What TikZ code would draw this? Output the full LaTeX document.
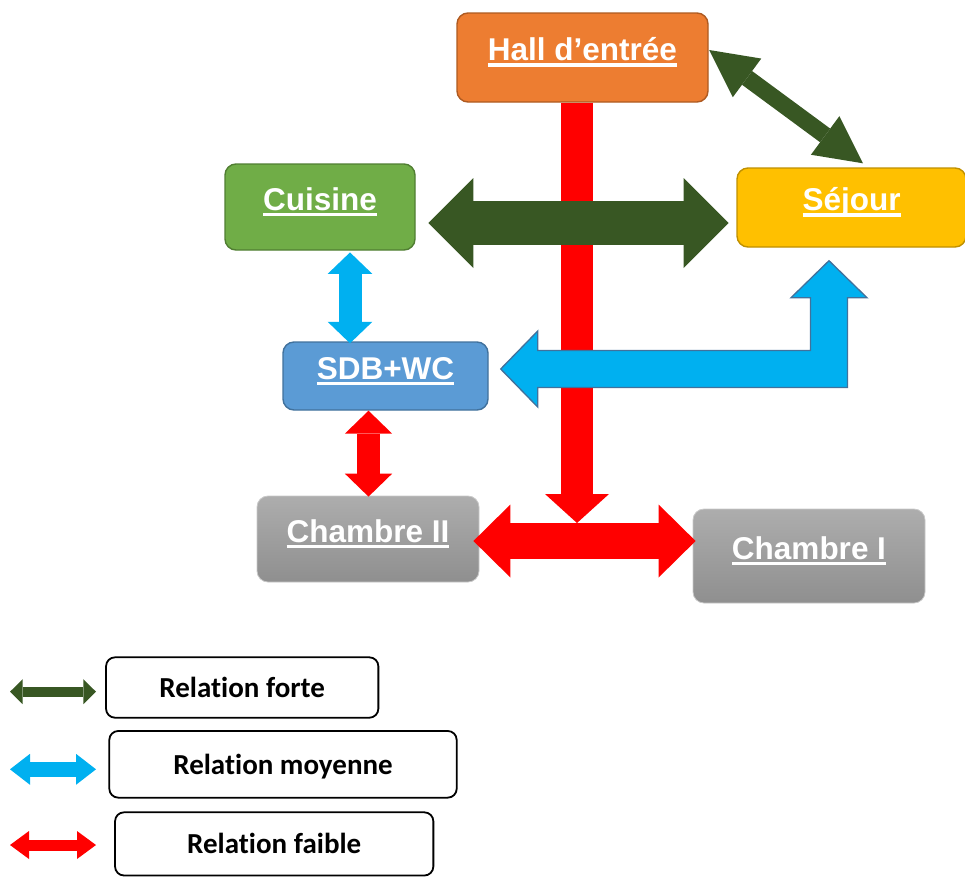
\documentclass[tikz,border=0pt]{standalone}
\usepackage{fontspec}
\setmainfont{Liberation Sans}
\newfontfamily\legendfont[Ligatures=NoCommon]{Carlito}
\usetikzlibrary{arrows.meta,calc}

\definecolor{hallfill}{HTML}{ED7D31}
\definecolor{hallline}{HTML}{AE5A21}
\definecolor{cuisinefill}{HTML}{70AD47}
\definecolor{cuisineline}{HTML}{507E32}
\definecolor{sejourfill}{HTML}{FFC000}
\definecolor{sejourline}{HTML}{BF9000}
\definecolor{sdbfill}{HTML}{5B9BD5}
\definecolor{sdbline}{HTML}{41719C}
\definecolor{chtop}{HTML}{ADADAD}
\definecolor{chbottom}{HTML}{8F8F8F}
\definecolor{chline}{HTML}{C8C8C8}
\definecolor{forte}{HTML}{385723}
\definecolor{moyenne}{HTML}{00B0F0}
\definecolor{moyenneline}{HTML}{41719C}
\definecolor{faible}{HTML}{FF0000}

\newcommand{\roomul}[1]{\setbox0\hbox{#1}\rlap{\vrule height -2.5pt depth 6pt width \wd0}\box0}

\begin{document}
\begin{tikzpicture}[x=1pt, y=-1pt, line join=miter,
    room/.style={rounded corners=11pt, line width=1.4pt, inner sep=0pt,
      text height=6pt, text depth=0pt, text=white,
      font=\bfseries\fontsize{31.5}{36}\selectfont},
    legendbox/.style={draw=black, line width=1.8pt, rounded corners=9pt, fill=white,
      inner sep=0pt, text height=20pt, text depth=0pt,
      font=\legendfont\bfseries\fontsize{29}{33}\selectfont},
    blockarrow/.style n args={3}{line width=#1,
      >={Triangle[length=#2, width=#3, line width=0pt]}}]

  \useasboundingbox (0,0) rectangle (965,876);

  % rooms
  \node[room, fill=hallfill, draw=hallline, minimum width=251, minimum height=89] (hall) at (582.5,57.5) {\roomul{Hall d’entrée}};
  \node[room, fill=cuisinefill, draw=cuisineline, minimum width=190, minimum height=86] (cuisine) at (320,207) {\roomul{Cuisine}};
  \node[room, fill=sejourfill, draw=sejourline, minimum width=229, minimum height=79] (sejour) at (851.5,207.5) {\roomul{Séjour}};
  \node[room, fill=sdbfill, draw=sdbline, minimum width=205, minimum height=68] (sdb) at (385.5,376) {\roomul{SDB+WC}};
  \node[room, top color=chtop, bottom color=chbottom, draw=chline, line width=0.8pt, minimum width=222, minimum height=86] (chII) at (368,539) {\roomul{Chambre II}};
  \node[room, top color=chtop, bottom color=chbottom, draw=chline, line width=0.8pt, minimum width=232, minimum height=94] (chI) at (809,556) {\roomul{Chambre I}};

  \coordinate (junction) at (577,523);
  \coordinate (elbowL) at ([shift={(12,-7)}]sdb.east);
  \coordinate (elbowU) at ([shift={(-22.5,13)}]sejour.south);

  % relations
  \draw[blockarrow={32}{29}{64}, ->, color=faible] ([xshift=-5.5]hall.south) -- (junction);
  \draw[blockarrow={36}{37}{73}, <->, color=faible] ([shift={(-6,2)}]chII.east) -- ([shift={(3,-15)}]chI.west);
  \draw[blockarrow={44.7}{45}{90}, <->, color=forte] ([shift={(12.6,16)}]cuisine.east) -- ([shift={(-7.7,15.5)}]sejour.west);
  \draw[blockarrow={17}{47}{48}, <->, color=forte] ([shift={(0.5,-7.5)}]hall.east) -- ([shift={(11.5,-4)}]sejour.north);
  \draw[blockarrow={23}{21.5}{44.7}, <->, color=moyenne] ([shift={(30,1.7)}]cuisine.south) -- ([shift={(-35.5,2)}]sdb.north);
  \draw[blockarrow={23.7}{23}{47.4}, <->, color=faible] ([xshift=-17]sdb.south) -- ([shift={(0.5,1)}]chII.north);
  \draw[draw=moyenneline, fill=moyenne, line width=1.3pt]
    (elbowL) -- ++(37,-38) -- ++(0,19.5) -- ($(elbowL -| elbowU)+(-18.5,-18.5)$)
    -- ($(elbowU)+(-18.5,37)$) -- ++(-19.5,0) -- (elbowU) -- ++(38,37) -- ++(-19.5,0)
    -- ($(elbowL -| elbowU)+(18.5,18.5)$) -- ($(elbowL)+(37,18.5)$) -- ++(0,19.5) -- cycle;

  % legend
  \foreach \name/\ay/\col/\lw/\len/\wid/\bx/\by/\bw/\bh/\txt in {
      forte/691.7/forte/10/12.7/25/242.2/687.5/272.3/60.4/Relation forte,
      moyenne/769.3/moyenne/15/20/31/283/764.3/347.4/66.7/Relation moyenne,
      faible/845/faible/11/19/28/274.2/843.9/318.3/63.2/Relation faible} {
    \draw[blockarrow={\lw}{\len}{\wid}, <->, color=\col] (10,\ay) -- (96,\ay);
    \node[legendbox, minimum width=\bw, minimum height=\bh] (leg-\name) at (\bx,\by) {\txt};
  }
\end{tikzpicture}
\end{document}
